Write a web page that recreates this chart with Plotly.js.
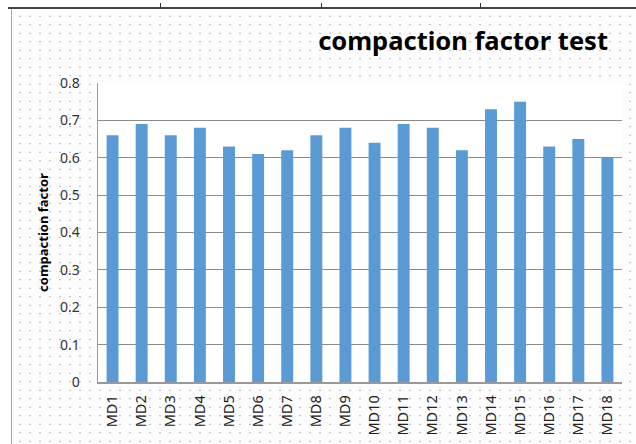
<!DOCTYPE html>
<html>
<head>
<meta charset="utf-8">
<script src="https://cdn.plot.ly/plotly-3.0.1.min.js"></script>
<style>
html,body{margin:0;padding:0;}
body{width:636px;height:444px;overflow:hidden;background:#fff;}
#wrap{position:relative;width:636px;height:444px;}
#bg{position:absolute;left:11px;top:9px;width:625px;height:435px;
 background-color:#fdfdfd;
 background-image:radial-gradient(circle, #b4b4b4 0.6px, rgba(0,0,0,0) 1px);
 background-size:10px 8.5px; background-position:3px 3px;
 border-left:1.5px solid #a8a8a8;}
#topline{position:absolute;left:8px;top:7px;width:628px;height:2px;background:#444;}
.tk{position:absolute;top:3px;width:1px;height:5px;background:#333;}
#chart{position:absolute;left:0;top:0;}
</style>
</head>
<body>
<div id="wrap">
<div id="bg"></div>
<div id="topline"></div>
<div class="tk" style="left:160px"></div>
<div class="tk" style="left:321px"></div>
<div class="tk" style="left:480px"></div>
<div id="chart"></div>
</div>
<script>
const categories = ["MD1","MD2","MD3","MD4","MD5","MD6","MD7","MD8","MD9","MD10","MD11","MD12","MD13","MD14","MD15","MD16","MD17","MD18"];
const values = [0.66,0.69,0.66,0.68,0.63,0.61,0.62,0.66,0.68,0.64,0.69,0.68,0.62,0.73,0.75,0.63,0.65,0.60];
const yTicks = [0,0.1,0.2,0.3,0.4,0.5,0.6,0.7,0.8];
const yTickText = ["0","0.1","0.2","0.3","0.4","0.5","0.6","0.7","0.8"];

const FONT = 'Noto Sans, Open Sans, sans-serif';
const trace = {
  type:'bar', x:categories, y:values,
  marker:{color:'#5B9BD5'},
  hoverinfo:'none'
};
const layout = {
  width:636, height:444,
  margin:{l:98, r:14, t:83, b:62, pad:0},
  paper_bgcolor:'rgba(0,0,0,0)',
  plot_bgcolor:'#ffffff',
  bargap:0.59,
  showlegend:false,
  font:{family:FONT, color:'#333'},
  title:{text:'<b>compaction factor test</b>', xref:'container', yref:'container',
    x:608/636, xanchor:'right', y:1-41/444, yanchor:'middle',
    font:{family:FONT, size:25.5, color:'#000'}},
  xaxis:{type:'category', tickangle:-90, tickfont:{size:14.5, color:'#222'},
    showgrid:false, showline:true, linecolor:'#999', linewidth:1.5,
    ticks:'', ticklabelstandoff:6, automargin:false, fixedrange:true},
  yaxis:{range:[0,0.8], tickvals:yTicks, ticktext:yTickText,
    tickfont:{size:14, color:'#333'},
    showgrid:true, gridcolor:'#8c8c8c', gridwidth:1,
    showline:true, linecolor:'#999', linewidth:1.5, zeroline:false,
    ticks:'', ticklabelstandoff:14, automargin:false, fixedrange:true,
    title:{text:'<b>compaction factor</b>', standoff:8,
      font:{family:FONT, size:13, color:'#000'}}}
};
Plotly.newPlot('chart',[trace],layout,{displayModeBar:false, staticPlot:true});
</script>
</body>
</html>
